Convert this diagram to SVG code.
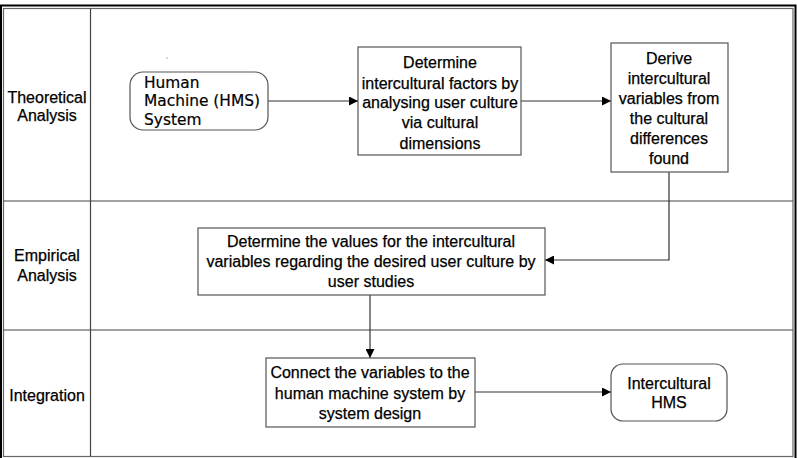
<svg xmlns="http://www.w3.org/2000/svg" width="797" height="458" viewBox="0 0 797 458">
<defs>
<marker id="ah" viewBox="0 0 10 10" refX="10" refY="5" markerWidth="9" markerHeight="9" markerUnits="userSpaceOnUse" orient="auto">
<path d="M0,0 L10,5 L0,10 z" fill="#000"/>
</marker>
<style>
.box{fill:#fff;stroke:#555;stroke-width:1.2}
.lane{fill:none;stroke:#444;stroke-width:1.2}
.t{font-family:"Liberation Sans",Arial,sans-serif;font-size:16px;fill:#000;stroke:#000;stroke-width:0.25;text-anchor:middle}
.v{font-family:"DejaVu Sans",Verdana,sans-serif;font-size:15.4px;fill:#000;stroke:#000;stroke-width:0.2}
.c{fill:none;stroke:#333;stroke-width:1.2}
</style>
</defs>
<rect x="0" y="0" width="797" height="458" fill="#fff"/>
<g id="frame">
<rect x="1" y="5.5" width="794.5" height="455" fill="none" stroke="#000" stroke-width="2"/>
<rect x="3.5" y="8.5" width="789.5" height="448" fill="none" stroke="#666" stroke-width="1.2"/>
<line class="lane" x1="90.5" y1="8.5" x2="90.5" y2="456.5"/>
<line class="lane" x1="3.5" y1="201" x2="793" y2="201"/>
<line class="lane" x1="3.5" y1="330" x2="793" y2="330"/>
<text class="t" x="47" y="103">Theoretical</text>
<text class="t" x="47" y="121">Analysis</text>
<text class="t" x="47" y="261">Empirical</text>
<text class="t" x="47" y="281">Analysis</text>
<text class="t" x="47" y="401">Integration</text>
<circle cx="167" cy="58" r="0.6" fill="#555"/>
</g>
<g id="connectors">
<line class="c" x1="268" y1="101" x2="358" y2="101" marker-end="url(#ah)"/>
<line class="c" x1="521" y1="101" x2="611" y2="101" marker-end="url(#ah)"/>
<polyline class="c" points="669,172 669,260 545,260" marker-end="url(#ah)"/>
<line class="c" x1="370" y1="295" x2="370" y2="358" marker-end="url(#ah)"/>
<line class="c" x1="475" y1="392" x2="611" y2="392" marker-end="url(#ah)"/>
</g>
<g id="n1">
<rect class="box" x="130" y="72" width="138" height="58" rx="13"/>
<text class="v" x="144" y="88">Human</text>
<text class="v" x="144" y="106">Machine (HMS)</text>
<text class="v" x="144" y="125">System</text>
</g>
<g id="n2">
<rect class="box" x="358" y="47" width="163" height="108"/>
<text class="t" x="440" y="68">Determine</text>
<text class="t" x="440" y="89">intercultural factors by</text>
<text class="t" x="440" y="108">analysing user culture</text>
<text class="t" x="440" y="128">via cultural</text>
<text class="t" x="440" y="149">dimensions</text>
</g>
<g id="n3">
<rect class="box" x="611" y="43" width="117" height="129"/>
<text class="t" x="669" y="64">Derive</text>
<text class="t" x="669" y="84">intercultural</text>
<text class="t" x="669" y="104">variables from</text>
<text class="t" x="669" y="124">the cultural</text>
<text class="t" x="669" y="144">differences</text>
<text class="t" x="669" y="164">found</text>
</g>
<g id="n4">
<rect class="box" x="198" y="228" width="347" height="67"/>
<text class="t" x="371" y="247">Determine the values for the intercultural</text>
<text class="t" x="371" y="267">variables regarding the desired user culture by</text>
<text class="t" x="371" y="287">user studies</text>
</g>
<g id="n5">
<rect class="box" x="266" y="358" width="209" height="69"/>
<text class="t" x="370" y="378">Connect the variables to the</text>
<text class="t" x="370" y="399">human machine system by</text>
<text class="t" x="370" y="419">system design</text>
</g>
<g id="n6">
<rect class="box" x="611" y="364" width="116" height="57" rx="12"/>
<text class="t" x="669" y="389">Intercultural</text>
<text class="t" x="669" y="408">HMS</text>
</g>
</svg>
